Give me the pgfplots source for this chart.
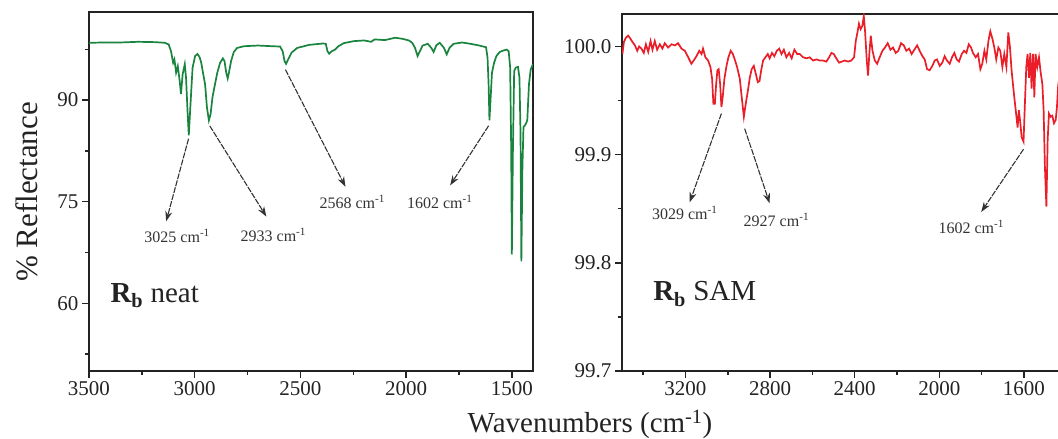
\documentclass[border=0pt]{standalone}
\usepackage{fontspec}
\setmainfont{Liberation Serif}
\usepackage{pgfplots}
\usepackage{pgfplotstable}
\pgfplotsset{compat=1.18}
\usetikzlibrary{arrows.meta}
\definecolor{specgreen}{RGB}{24,132,62}
\definecolor{specred}{RGB}{234,30,40}
\definecolor{axcol}{RGB}{35,35,35}

\pgfplotstableread{
w v
3500 98.45
3432 98.5
3351 98.5
3269 98.6
3188 98.55
3140 98.45
3123 98.2
3112 97.2
3102 95.5
3096 96.0
3088 94.05
3080 95.0
3071 92.8
3065 90.9
3057 93.8
3047 95.3
3041 93.3
3034 88.4
3028 84.8
3019 89.9
3010 94.8
2998 96.5
2987 96.8
2977 96.35
2969 95.5
2961 94.05
2951 92.35
2942 88.9
2933 87.0
2925 87.9
2916 90.4
2904 92.35
2893 94.05
2880 95.5
2867 96.15
2859 95.75
2851 94.05
2844 93.2
2838 94.05
2828 95.75
2815 97.1
2799 97.7
2766 97.95
2701 98.05
2636 97.95
2596 97.9
2584 97.2
2575 95.75
2568 95.35
2558 96.0
2542 97.0
2515 97.7
2458 98.15
2393 98.35
2380 98.3
2372 97.2
2364 96.85
2352 97.2
2336 97.45
2320 97.95
2295 98.4
2247 98.7
2198 98.8
2166 98.6
2149 98.95
2101 98.85
2052 99.2
2019 99.05
1987 98.8
1971 98.45
1958 97.7
1946 96.5
1935 97.2
1922 98.05
1898 98.3
1881 97.7
1870 97.1
1857 98.1
1841 98.45
1821 97.7
1808 96.75
1795 97.7
1776 98.3
1735 98.5
1695 98.3
1654 98.05
1622 97.8
1615 96.25
1610 92.35
1606 87.0
1601 89.9
1594 94.05
1584 95.5
1573 96.5
1557 97.1
1541 97.3
1524 97.45
1515 97.2
1508 94.8
1503 82.6
1500 67.2
1495 82.6
1489 94.3
1481 94.8
1471 94.9
1464 93.3
1459 85.0
1455 66.2
1450 80.1
1445 86.0
1435 86.4
1427 87.0
1419 92.35
1411 94.5
1400 95.3
}\neatdata

\pgfplotstableread{
w v
3498 99.993
3491 100.004
3482 100.008
3471 100.010
3463 100.008
3450 100.004
3439 100.001
3428 99.996
3419 100.000
3408 99.998
3397 99.994
3387 100.002
3376 99.995
3365 100.005
3356 99.997
3345 100.005
3334 99.997
3321 100.002
3309 99.998
3298 100.003
3282 99.999
3266 100.002
3250 100.001
3235 100.003
3219 99.998
3203 99.996
3187 99.990
3172 99.984
3161 99.987
3148 99.991
3135 99.996
3124 99.993
3117 99.998
3106 99.990
3093 99.987
3082 99.981
3074 99.970
3068 99.947
3061 99.947
3055 99.965
3049 99.978
3043 99.979
3036 99.965
3030 99.944
3024 99.953
3016 99.970
3006 99.982
2997 99.990
2986 99.996
2976 99.993
2967 99.988
2956 99.981
2943 99.970
2934 99.953
2924 99.935
2915 99.947
2905 99.959
2896 99.971
2887 99.979
2877 99.982
2868 99.975
2858 99.967
2850 99.968
2842 99.978
2833 99.987
2822 99.990
2811 99.993
2802 99.989
2791 99.994
2780 99.991
2768 99.996
2757 99.998
2746 99.993
2735 99.997
2723 99.990
2710 99.994
2698 99.989
2685 99.997
2672 99.993
2660 99.993
2644 99.990
2628 99.989
2613 99.990
2597 99.987
2581 99.988
2565 99.987
2550 99.987
2534 99.986
2521 99.990
2510 99.994
2499 99.993
2487 99.989
2474 99.985
2461 99.986
2447 99.987
2431 99.986
2416 99.987
2403 99.990
2395 100.005
2387 100.013
2380 100.021
2372 100.016
2364 100.019
2357 100.028
2351 100.014
2343 99.987
2337 99.973
2331 99.993
2324 100.010
2316 99.996
2305 99.987
2294 99.984
2282 99.990
2269 99.996
2257 99.999
2244 100.003
2231 99.997
2219 99.999
2206 99.994
2194 99.996
2181 100.003
2168 100.001
2156 99.996
2143 99.998
2131 99.993
2118 99.997
2105 100.001
2093 99.996
2080 99.991
2069 99.988
2058 99.979
2046 99.978
2033 99.982
2022 99.987
2011 99.988
1998 99.982
1986 99.985
1975 99.991
1964 99.987
1951 99.984
1940 99.990
1929 99.994
1918 99.988
1907 99.986
1894 99.993
1883 99.996
1872 99.994
1861 100.002
1850 99.999
1841 99.994
1828 99.990
1817 99.993
1806 99.979
1797 99.984
1787 99.996
1778 99.988
1768 100.005
1759 100.014
1749 100.007
1740 99.999
1731 99.988
1721 99.999
1712 99.996
1702 99.981
1693 99.993
1683 99.981
1674 100.013
1666 99.999
1659 99.979
1652 99.965
1644 99.950
1636 99.936
1630 99.925
1624 99.941
1617 99.929
1611 99.916
1602 99.912
1595 99.950
1589 99.981
1583 99.993
1576 99.971
1570 99.994
1564 99.961
1557 99.993
1551 99.953
1545 99.993
1537 99.981
1529 99.990
1521 99.976
1513 99.965
1507 99.941
1501 99.889
1494 99.852
1488 99.913
1482 99.938
1474 99.935
1466 99.936
1458 99.929
1450 99.932
1444 99.944
1439 99.962
1425 99.985
1410 99.995
}\samdata

\pgfplotsset{
  specaxis/.style={
    scale only axis,
    axis line style={line width=1.6pt, axcol},
    tick align=outside,
    xtick pos=bottom, ytick pos=left,
    major tick length=7pt, minor tick length=4pt,
    every tick/.append style={line width=1.5pt, axcol},
    minor tick num=1,
    tick label style={font=\fontsize{21}{25}\selectfont, text=axcol},
    /pgf/number format/assume math mode=true,
    /pgf/number format/1000 sep={},
    x dir=reverse,
    clip=true,
  },
}
\tikzset{
  annarrow/.style={draw=black!80, line width=1.1pt, dash pattern=on 6pt off 1.2pt, -{Stealth[length=10pt,width=7pt]}},
  annlabel/.style={font=\fontsize{16}{19}\selectfont, text=black!80, inner sep=0pt},
}

\begin{document}
\begin{tikzpicture}[x=1pt,y=1pt]

\begin{axis}[specaxis, at={(89pt,68pt)}, anchor=south west,
  width=444pt, height=359pt,
  xmin=1400, xmax=3500, ymin=50, ymax=103,
  xtick={1500,2000,2500,3000,3500},
  ytick={45,60,75,90,105}]
\addplot[specgreen, line width=1.7pt] table[x=w,y=v] {\neatdata};
\draw[annarrow] (axis cs:3029,84.3) -- (axis cs:3135,72.1);
\node[annlabel] at (axis cs:3083,69.9) {3025 cm\textsuperscript{-1}};
\draw[annarrow] (axis cs:2929,86.2) -- (axis cs:2661,72.8);
\node[annlabel] at (axis cs:2628,70.1) {2933 cm\textsuperscript{-1}};
\draw[annarrow] (axis cs:2571,94.5) -- (axis cs:2287,77.2);
\node[annlabel] at (axis cs:2255,75.0) {2568 cm\textsuperscript{-1}};
\draw[annarrow] (axis cs:1610,86.2) -- (axis cs:1792,77.4);
\node[annlabel] at (axis cs:1841,75.0) {1602 cm\textsuperscript{-1}};
\node[anchor=west, font=\fontsize{29}{34}\selectfont, text=axcol, inner sep=0pt] at (axis cs:3399,61.1) {\textbf{R\textsubscript{b}} neat};
\end{axis}

\begin{axis}[specaxis, at={(622pt,68pt)}, anchor=south west,
  width=443pt, height=357pt,
  xmin=1406, xmax=3500, ymin=99.7, ymax=100.03,
  xtick={1600,2000,2400,2800,3200,3600},
  ytick={99.7,99.8,99.9,100.0,100.1},
  yticklabel style={/pgf/number format/.cd, fixed, fixed zerofill, precision=1}]
\addplot[specred, line width=1.7pt] table[x=w,y=v] {\samdata};
\draw[annarrow] (axis cs:3030,99.938) -- (axis cs:3180,99.856);
\node[annlabel] at (axis cs:3203,99.846) {3029 cm\textsuperscript{-1}};
\draw[annarrow] (axis cs:2920,99.924) -- (axis cs:2802,99.855);
\node[annlabel] at (axis cs:2770,99.840) {2927 cm\textsuperscript{-1}};
\draw[annarrow] (axis cs:1602,99.905) -- (axis cs:1802,99.847);
\node[annlabel] at (axis cs:1849,99.833) {1602 cm\textsuperscript{-1}};
\node[anchor=west, font=\fontsize{29}{34}\selectfont, text=axcol, inner sep=0pt] at (axis cs:3353,99.771) {\textbf{R\textsubscript{b}} SAM};
\end{axis}

\node[rotate=90, font=\fontsize{31}{36}\selectfont, text=axcol] at (27pt,247pt) {\% Reflectance};
\node[anchor=base, font=\fontsize{29}{34}\selectfont, text=axcol] at (590pt,6pt) {Wavenumbers (cm\textsuperscript{-1})};

\pgfresetboundingbox
\path[use as bounding box] (0,0) rectangle (1058pt,439pt);
\end{tikzpicture}
\end{document}
